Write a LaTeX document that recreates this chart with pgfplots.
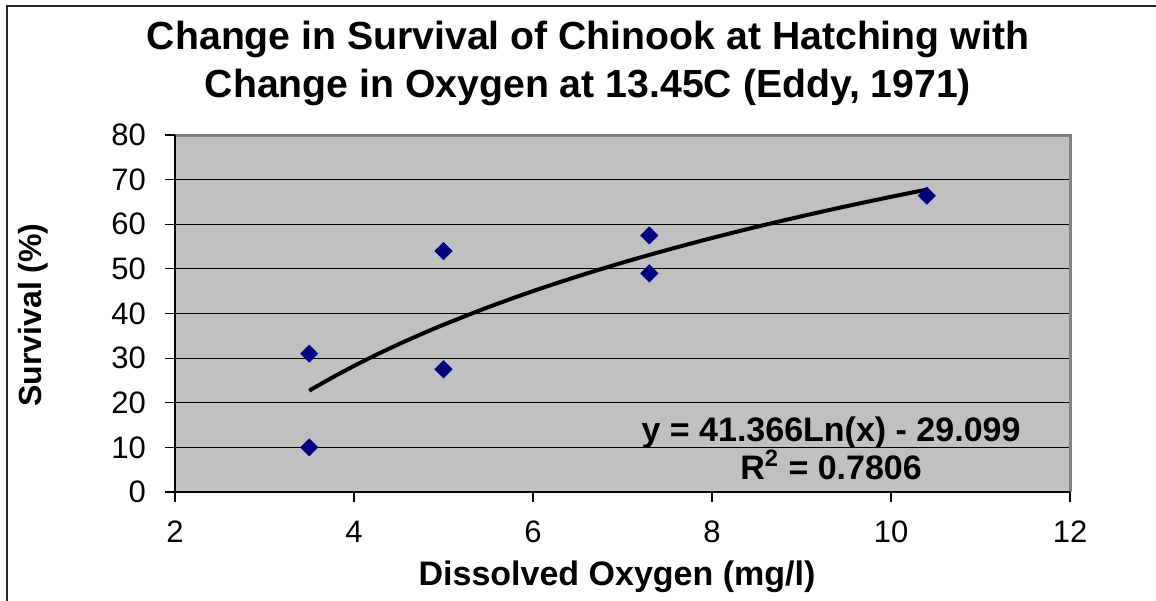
\documentclass[border=0pt]{standalone}
\usepackage{pgfplots}
\pgfplotsset{compat=1.18}
\usepackage{fontspec}
\setmainfont{Liberation Sans}
\definecolor{plotgray}{HTML}{C0C0C0}
\definecolor{navyblue}{HTML}{000080}
\begin{document}
\begin{tikzpicture}
\useasboundingbox (-87.5pt,-54pt) rectangle (490.5pt,246pt);
\draw[black!85, line width=0.8pt] (-84pt,-80pt) -- (-84pt,243pt) -- (520pt,243pt);
\node[align=center, font=\fontsize{19.6}{24}\selectfont\bfseries] at (206.5pt,214.5pt)
  {Change in Survival of Chinook at Hatching with\\Change in Oxygen at 13.45C (Eddy, 1971)};
\node[rotate=90, font=\fontsize{16}{18}\selectfont\bfseries] at (-71pt,88.5pt) {Survival (\%)};
\node[font=\fontsize{17}{19}\selectfont\bfseries] at (221pt,-42.5pt) {Dissolved Oxygen (mg/l)};
\begin{axis}[
  at={(0,0)}, anchor=south west,
  scale only axis, width=447.5pt, height=178.5pt,
  xmin=2, xmax=12, ymin=0, ymax=80,
  xtick={2,4,6,8,10,12}, ytick={0,10,20,30,40,50,60,70,80},
  axis background/.style={fill=plotgray},
  axis line style={draw=none},
  tick pos=left, tick align=outside, major tick length=5pt,
  tick style={black, line width=0.6pt},
  ymajorgrids, grid style={black, line width=0.6pt},
  /pgf/number format/assume math mode=true,
  ticklabel style={font=\fontsize{15.5}{17}\selectfont},
  yticklabel style={xshift=-6pt},
  xticklabel style={yshift=-6pt},
  clip=false,
]
\addplot[only marks, mark=square*, mark size=3pt, mark options={rotate=45}, color=navyblue] coordinates {
  (3.5,31) (3.5,10) (5,54) (5,27.5) (7.3,57.5) (7.3,49) (10.4,66.4)
};
\addplot[black, line width=2pt, smooth] coordinates {
  (3.5,22.72) (3.75,25.57) (4,28.25) (4.25,30.76) (4.5,33.12) (4.75,35.36) (5,37.48)
  (5.5,41.42) (6,45.02) (6.5,48.33) (7,51.40) (7.5,54.25) (8,56.92)
  (8.5,59.43) (9,61.79) (9.5,64.03) (10,66.15) (10.4,67.77)
};
\draw[gray, line width=1.5pt] (rel axis cs:0,1) -- (rel axis cs:1,1) -- (rel axis cs:1,0);
\draw[black, line width=0.8pt] (rel axis cs:0,1) -- (rel axis cs:0,0) -- (rel axis cs:1,0);
\node[align=center, font=\fontsize{17}{18}\selectfont\bfseries] at (rel axis cs:0.733,0.123)
  {y = 41.366Ln(x) - 29.099\\R\textsuperscript{2} = 0.7806};
\end{axis}
\end{tikzpicture}
\end{document}
